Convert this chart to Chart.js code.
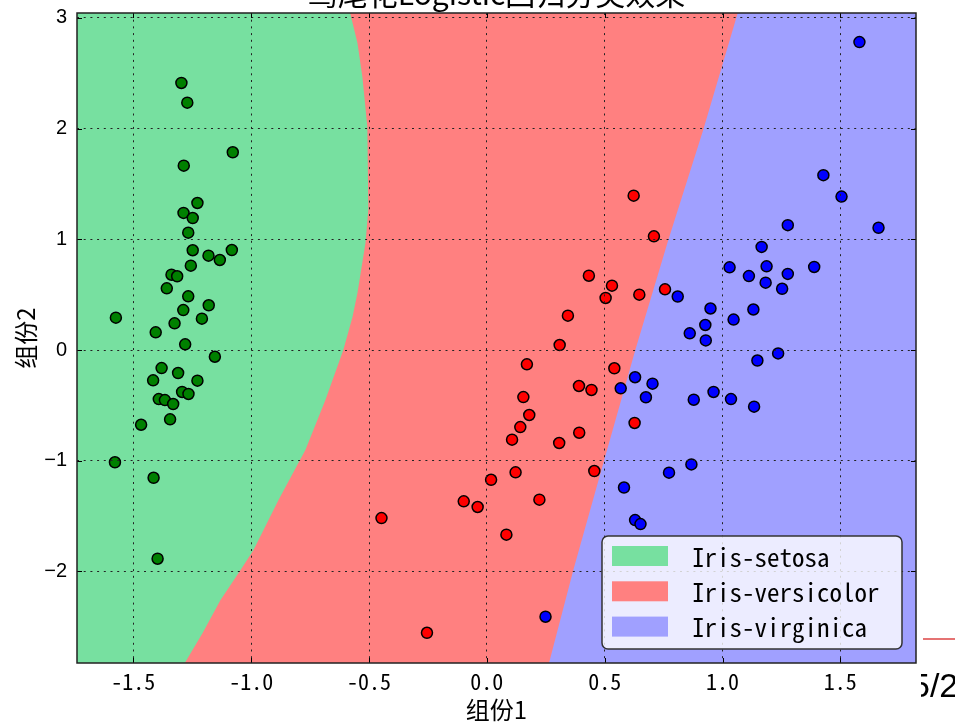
<!DOCTYPE html>
<html>
<head>
<meta charset="utf-8">
<title>鸢尾花Logistic回归分类效果</title>
<script src="https://cdn.jsdelivr.net/npm/chart.js@4.4.1/dist/chart.umd.min.js"></script>
<style>
  html, body { margin: 0; padding: 0; background: #fff; overflow: hidden; }
  #wrap { position: relative; width: 955px; height: 724px; }
</style>
</head>
<body>
<div id="wrap"><canvas id="irisChart" width="955" height="724"></canvas></div>
<script>
// PCA projection of the iris samples (组份1, 组份2) and the logistic regression regions
const classNames = ['Iris-setosa', 'Iris-versicolor', 'Iris-virginica'];
const lightColors = ['#77E0A0', '#FF8080', '#A0A0FF'];
const darkColors = ['#008000', '#FF0000', '#0000FF'];

const setosaPoints = [
  [-1.296, 2.412], [-1.271, 2.234], [-1.078, 1.786], [-1.286, 1.665], [-1.228, 1.328],
  [-1.287, 1.238], [-1.248, 1.192], [-1.267, 1.060], [-1.248, 0.901], [-1.082, 0.903],
  [-1.181, 0.852], [-1.133, 0.813], [-1.256, 0.762], [-1.338, 0.680], [-1.314, 0.666],
  [-1.358, 0.557], [-1.267, 0.485], [-1.180, 0.404], [-1.288, 0.361], [-1.574, 0.292],
  [-1.209, 0.283], [-1.325, 0.241], [-1.405, 0.160], [-1.280, 0.051], [-1.154, -0.061],
  [-1.380, -0.163], [-1.310, -0.208], [-1.416, -0.274], [-1.228, -0.277], [-1.293, -0.379],
  [-1.266, -0.397], [-1.392, -0.443], [-1.366, -0.452], [-1.331, -0.488], [-1.344, -0.626],
  [-1.467, -0.675], [-1.578, -1.014], [-1.414, -1.154], [-1.397, -1.885]
];
const versicolorPoints = [
  [0.623, 1.394], [0.709, 1.027], [0.433, 0.671], [0.531, 0.581], [0.504, 0.470],
  [0.647, 0.500], [0.756, 0.548], [0.344, 0.310], [0.309, 0.045], [0.170, -0.129],
  [0.541, -0.165], [0.391, -0.325], [0.444, -0.361], [0.155, -0.425], [0.180, -0.587],
  [0.142, -0.696], [0.107, -0.810], [0.307, -0.840], [0.392, -0.747], [0.627, -0.659],
  [0.122, -1.105], [0.018, -1.172], [0.456, -1.093], [-0.098, -1.367], [-0.039, -1.418],
  [0.223, -1.352], [-0.447, -1.518], [0.083, -1.668], [-0.254, -2.554]
];
const virginicaPoints = [
  [1.581, 2.781], [1.428, 1.579], [1.505, 1.386], [1.277, 1.128], [1.662, 1.104],
  [1.166, 0.931], [1.030, 0.747], [1.187, 0.756], [1.112, 0.668], [1.277, 0.687],
  [1.389, 0.750], [1.183, 0.608], [1.253, 0.553], [0.810, 0.483], [0.949, 0.375],
  [1.047, 0.275], [1.131, 0.366], [0.927, 0.226], [0.861, 0.151], [0.929, 0.087],
  [1.236, -0.031], [1.148, -0.095], [0.629, -0.246], [0.703, -0.304], [0.568, -0.346],
  [0.675, -0.427], [0.962, -0.379], [0.878, -0.449], [1.036, -0.443], [1.134, -0.512],
  [0.868, -1.033], [0.773, -1.108], [0.582, -1.242], [0.629, -1.536], [0.652, -1.572],
  [0.249, -2.409]
];

// decision boundaries, top to bottom
const setosaEdge = [
  [-0.586, 3.10], [-0.579, 3.035], [-0.549, 2.773], [-0.528, 2.466], [-0.507, 2.014],
  [-0.503, 1.265], [-0.515, 0.967], [-0.549, 0.515], [-0.570, 0.298], [-0.609, 0.000],
  [-0.685, -0.452], [-0.770, -0.903], [-0.884, -1.355], [-0.990, -1.807], [-1.045, -1.987],
  [-1.130, -2.258], [-1.206, -2.557], [-1.279, -2.818], [-1.302, -2.90]
];
const virginicaEdge = [
  [1.072, 3.10], [1.062, 3.026], [0.918, 1.987], [0.770, 0.994], [0.630, 0.000],
  [0.498, -0.994], [0.367, -1.987], [0.265, -2.818], [0.255, -2.90]
];

const xRange = [-1.739, 1.821];
const yRange = [-2.827, 3.044];
const xTicks = [-1.5, -1.0, -0.5, 0.0, 0.5, 1.0, 1.5];
const yTicks = [-2, -1, 0, 1, 2, 3];

const toXY = pts => pts.map(p => ({ x: p[0], y: p[1] }));

// regions: whole area is versicolor, setosa and virginica cut out of it
const outerLeft = -1.9, outerRight = 2.0, outerTop = 3.1, outerBottom = -2.9;
const versicolorRegion = [[outerLeft, outerTop], [outerRight, outerTop], [outerRight, outerBottom], [outerLeft, outerBottom]];
const setosaRegion = [[outerLeft, outerTop]].concat(setosaEdge, [[outerLeft, outerBottom]]);
const virginicaRegion = virginicaEdge.concat([[outerRight, outerBottom], [outerRight, outerTop]]);

function regionSet(pts, color, order) {
  return {
    data: toXY(pts),
    showLine: true,
    fill: 'shape',
    backgroundColor: color,
    borderColor: color,
    borderWidth: 0,
    pointRadius: 0,
    order: order
  };
}
function pointSet(pts, color) {
  return {
    data: toXY(pts),
    backgroundColor: color,
    borderColor: '#000',
    borderWidth: 1.5,
    pointRadius: 5.5,
    order: 0
  };
}

const sideLayer = {
  id: 'sideLayer',
  afterDraw(chart) {
    const { ctx, chartArea: a, scales: { x, y } } = chart;
    ctx.save();

    // inward tick marks on every side
    ctx.strokeStyle = '#000';
    ctx.lineWidth = 1;
    ctx.beginPath();
    xTicks.forEach(v => {
      const px = Math.round(x.getPixelForValue(v)) + 0.5;
      ctx.moveTo(px, a.bottom); ctx.lineTo(px, a.bottom - 5);
      ctx.moveTo(px, a.top); ctx.lineTo(px, a.top + 5);
    });
    yTicks.forEach(v => {
      const py = Math.round(y.getPixelForValue(v)) + 0.5;
      ctx.moveTo(a.left, py); ctx.lineTo(a.left + 5, py);
      ctx.moveTo(a.right, py); ctx.lineTo(a.right - 5, py);
    });
    ctx.stroke();

    ctx.lineWidth = 1.5;
    ctx.strokeStyle = '#222';
    ctx.strokeRect(a.left, a.top, a.right - a.left, a.bottom - a.top);

    // legend, lower right
    const lw = 300, lh = 113;
    const lx = a.right - 14 - lw, ly = a.bottom - 14 - lh;
    ctx.beginPath();
    ctx.roundRect(lx, ly, lw, lh, 6);
    ctx.fillStyle = 'rgba(255,255,255,0.8)';
    ctx.fill();
    ctx.lineWidth = 1.5;
    ctx.strokeStyle = '#333';
    ctx.stroke();
    ctx.font = '25px "Noto Sans Mono CJK SC", "Liberation Mono", monospace';
    ctx.textBaseline = 'middle';
    ctx.textAlign = 'left';
    classNames.forEach((name, i) => {
      const ry = ly + 10 + i * 35.3;
      ctx.fillStyle = lightColors[i];
      ctx.fillRect(lx + 10, ry, 56, 20);
      ctx.fillStyle = '#000';
      ctx.fillText(name, lx + 90, ry + 11);
    });

    // title above the axes
    ctx.font = '30px "Noto Sans CJK SC"';
    ctx.textAlign = 'center';
    ctx.textBaseline = 'alphabetic';
    ctx.fillStyle = '#000';
    ctx.fillText('鸢尾花Logistic回归分类效果', (a.left + a.right) / 2, 5);

    // page edge on the right
    ctx.strokeStyle = '#E57373';
    ctx.lineWidth = 2;
    ctx.beginPath();
    ctx.moveTo(923, 639); ctx.lineTo(955, 639);
    ctx.stroke();
    ctx.beginPath();
    ctx.rect(921, 650, 40, 74);
    ctx.clip();
    ctx.font = '34px "Liberation Sans Narrow", "Liberation Sans"';
    ctx.textAlign = 'left';
    ctx.fillText('5/2', 911, 697);

    ctx.restore();
  }
};

new Chart(document.getElementById('irisChart'), {
  type: 'scatter',
  data: {
    datasets: [
      pointSet(setosaPoints, darkColors[0]),
      pointSet(versicolorPoints, darkColors[1]),
      pointSet(virginicaPoints, darkColors[2]),
      regionSet(setosaRegion, lightColors[0], 5),
      regionSet(virginicaRegion, lightColors[2], 5),
      regionSet(versicolorRegion, lightColors[1], 6)
    ]
  },
  options: {
    responsive: false,
    animation: false,
    events: [],
    layout: { padding: { left: 0, right: 39, top: 13, bottom: 0 } },
    plugins: {
      legend: { display: false },
      tooltip: { enabled: false }
    },
    scales: {
      x: {
        type: 'linear',
        min: xRange[0],
        max: xRange[1],
        afterBuildTicks: s => { s.ticks = xTicks.map(v => ({ value: v })); },
        afterFit: s => { s.height = 61; s.paddingLeft = 0; s.paddingRight = 0; },
        grid: { color: '#222', lineWidth: 1, drawTicks: false, z: 1 },
        border: { display: false, dash: [2, 4.7] },
        ticks: {
          padding: 5,
          color: '#000',
          font: { family: '"Noto Sans Mono CJK SC", "Liberation Mono", monospace', size: 22 },
          callback: v => (v < 0 ? '-' : '') + Math.abs(v).toFixed(1)
        },
        title: {
          display: true,
          text: '组份1',
          color: '#000',
          padding: { top: 0, bottom: 0 },
          font: { family: '"Noto Sans CJK SC"', size: 24 }
        }
      },
      y: {
        type: 'linear',
        min: yRange[0],
        max: yRange[1],
        afterBuildTicks: s => { s.ticks = yTicks.map(v => ({ value: v })); },
        afterFit: s => { s.width = 77; s.paddingTop = 0; s.paddingBottom = 0; },
        grid: { color: '#222', lineWidth: 1, drawTicks: false, z: 1 },
        border: { display: false, dash: [2, 4.7] },
        ticks: {
          padding: 10,
          color: '#000',
          font: { family: '"Liberation Sans"', size: 20 },
          callback: v => (v < 0 ? '−' : '') + Math.abs(v)
        },
        title: {
          display: true,
          text: '组份2',
          color: '#000',
          padding: { top: 11, bottom: 0 },
          font: { family: '"Noto Sans CJK SC"', size: 24 }
        }
      }
    }
  },
  plugins: [sideLayer]
});
</script>
</body>
</html>
